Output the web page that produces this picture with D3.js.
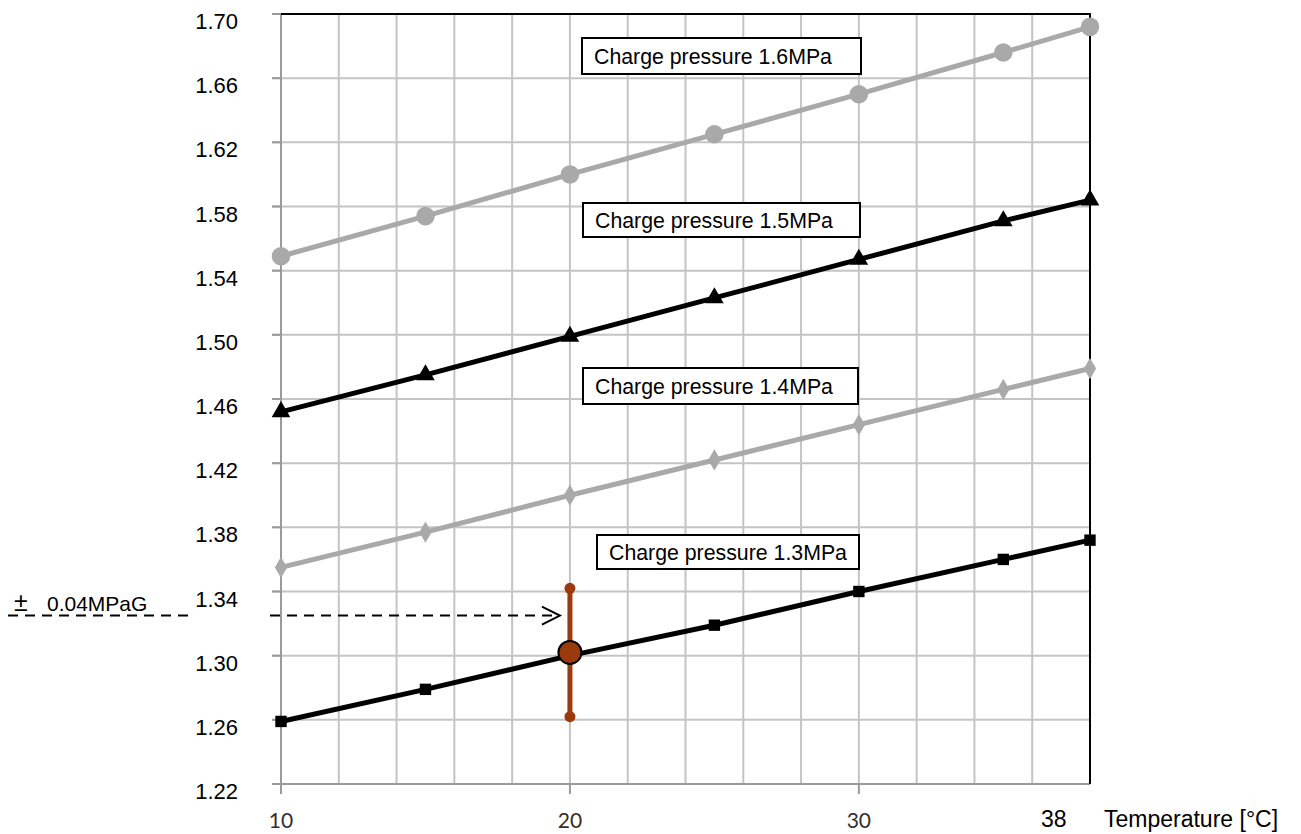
<!DOCTYPE html>
<html>
<head>
<meta charset="utf-8">
<script src="https://cdn.jsdelivr.net/npm/d3@7"></script>
<style>
  body { margin: 0; background: #fff; }
  text { font-family: Arial, "Liberation Sans", sans-serif; fill: #000; }
</style>
</head>
<body>
<svg width="1301" height="834"></svg>
<script>
// Temperature points (x axis)
let temps = [10, 15, 20, 25, 30, 35, 38];

// Pressure readings for each charge pressure
let p16 = [1.549, 1.574, 1.600, 1.625, 1.650, 1.676, 1.692];
let p15 = [1.452, 1.475, 1.499, 1.523, 1.547, 1.571, 1.584];
let p14 = [1.355, 1.377, 1.400, 1.422, 1.444, 1.466, 1.479];
let p13 = [1.259, 1.279, 1.300, 1.319, 1.340, 1.360, 1.372];

let seriesNames = ["Charge pressure 1.6MPa", "Charge pressure 1.5MPa", "Charge pressure 1.4MPa", "Charge pressure 1.3MPa"];

// Axis ticks
let yTicks = ["1.22", "1.26", "1.30", "1.34", "1.38", "1.42", "1.46", "1.50", "1.54", "1.58", "1.62", "1.66", "1.70"];
let xTicks = [10, 20, 30];
let xGrid = [10, 12, 14, 16, 18, 20, 22, 24, 26, 28, 30, 32, 34, 36, 38];

// Tolerance marker: temperature, centre value, tolerance
let tolTemp = 20;
let tolValue = 1.302;
let tolRange = 0.04;
let arrowValue = 1.325;

let svg = d3.select("svg");

let x = d3.scaleLinear().domain([10, 38]).range([281, 1090]);
let y = d3.scaleLinear().domain([1.22, 1.70]).range([784, 14]);

// grid
let grid = svg.append("g");
grid.selectAll("line.v")
  .data(xGrid)
  .enter()
  .append("line")
  .attr("x1", function (d) { return x(d); })
  .attr("x2", function (d) { return x(d); })
  .attr("y1", y(1.70))
  .attr("y2", y(1.22))
  .attr("stroke", "#c4c4c4")
  .attr("stroke-width", 2);

grid.selectAll("line.h")
  .data(yTicks)
  .enter()
  .append("line")
  .attr("x1", 272)
  .attr("x2", x(38))
  .attr("y1", function (d) { return y(+d); })
  .attr("y2", function (d) { return y(+d); })
  .attr("stroke", "#c4c4c4")
  .attr("stroke-width", 2);

// left tick marks are a bit darker
grid.selectAll("line.t")
  .data(yTicks)
  .enter()
  .append("line")
  .attr("x1", 272)
  .attr("x2", x(10))
  .attr("y1", function (d) { return y(+d); })
  .attr("y2", function (d) { return y(+d); })
  .attr("stroke", "#9a9a9a")
  .attr("stroke-width", 2);

// bottom ticks
grid.selectAll("line.b")
  .data(xTicks)
  .enter()
  .append("line")
  .attr("x1", function (d) { return x(d); })
  .attr("x2", function (d) { return x(d); })
  .attr("y1", y(1.22))
  .attr("y2", y(1.22) + 10)
  .attr("stroke", "#9a9a9a")
  .attr("stroke-width", 2);

// axes + frame
svg.append("line")
  .attr("x1", x(10)).attr("x2", x(10))
  .attr("y1", y(1.70) - 1).attr("y2", y(1.22) + 9)
  .attr("stroke", "#9a9a9a").attr("stroke-width", 2);
svg.append("line")
  .attr("x1", 272).attr("x2", x(38))
  .attr("y1", y(1.22)).attr("y2", y(1.22))
  .attr("stroke", "#9a9a9a").attr("stroke-width", 2);
svg.append("line")
  .attr("x1", x(10)).attr("x2", x(38) + 1)
  .attr("y1", y(1.70)).attr("y2", y(1.70))
  .attr("stroke", "#000").attr("stroke-width", 2);
svg.append("line")
  .attr("x1", x(38)).attr("x2", x(38))
  .attr("y1", y(1.70)).attr("y2", y(1.22))
  .attr("stroke", "#000").attr("stroke-width", 2);

// tick labels
svg.selectAll("text.ylab")
  .data(yTicks)
  .enter()
  .append("text")
  .attr("x", 238)
  .attr("y", function (d) { return y(+d) + 15; })
  .attr("text-anchor", "end")
  .attr("font-size", 22)
  .text(function (d) { return d; });

svg.selectAll("text.xlab")
  .data(xTicks)
  .enter()
  .append("text")
  .attr("x", function (d) { return x(d); })
  .attr("y", 828)
  .attr("text-anchor", "middle")
  .attr("font-size", 21)
  .style("font-family", "Lato, sans-serif")
  .style("fill", "#3a2d28")
  .text(function (d) { return d; });

svg.append("text")
  .attr("x", x(38) - 49).attr("y", 827)
  .attr("font-size", 23)
  .text("38");
svg.append("text")
  .attr("x", 1104).attr("y", 827)
  .attr("font-size", 23)
  .text("Temperature [°C]");

// series
let series = [
  { values: p16, color: "#a9a9a9", shape: d3.symbolCircle, size: 270 },
  { values: p15, color: "#000000", shape: d3.symbolTriangle, size: 150 },
  { values: p14, color: "#a9a9a9", shape: d3.symbolDiamond, size: 130 },
  { values: p13, color: "#000000", shape: d3.symbolSquare, size: 130 },
];

let line = d3.line()
  .x(function (d) { return x(d[0]); })
  .y(function (d) { return y(d[1]); });

series.forEach(function (s) {
  let pts = d3.zip(temps, s.values);
  svg.append("path")
    .datum(pts)
    .attr("d", line)
    .attr("fill", "none")
    .attr("stroke", s.color)
    .attr("stroke-width", 5);

  svg.append("g")
    .selectAll("path")
    .data(pts)
    .enter()
    .append("path")
    .attr("transform", function (d) { return "translate(" + x(d[0]) + "," + y(d[1]) + ")"; })
    .attr("d", d3.symbol().type(s.shape).size(s.size))
    .attr("fill", s.color);
});

// label boxes (left, top, width, height)
let boxes = [
  [582, 38, 279, 36],
  [583, 203, 277, 34],
  [583, 368, 275, 36],
  [597, 535, 262, 34],
];

boxes.forEach(function (b, i) {
  svg.append("rect")
    .attr("x", b[0]).attr("y", b[1])
    .attr("width", b[2]).attr("height", b[3])
    .attr("fill", "#fff")
    .attr("stroke", "#000")
    .attr("stroke-width", 2);
  svg.append("text")
    .attr("x", b[0] + 12)
    .attr("y", b[1] + b[3] / 2 + 7.5)
    .attr("font-size", 21.3)
    .text(seriesNames[i]);
});

// dashed arrow
let ay = y(arrowValue);
svg.append("line")
  .attr("x1", 8).attr("x2", 188)
  .attr("y1", ay).attr("y2", ay)
  .attr("stroke", "#000").attr("stroke-width", 2)
  .attr("stroke-dasharray", "10,7");
svg.append("line")
  .attr("x1", 270).attr("x2", x(tolTemp) - 12)
  .attr("y1", ay).attr("y2", ay)
  .attr("stroke", "#000").attr("stroke-width", 2)
  .attr("stroke-dasharray", "10,7");
svg.append("path")
  .attr("d", "M" + (x(tolTemp) - 28) + "," + (ay - 9) + "L" + (x(tolTemp) - 10) + "," + ay + "L" + (x(tolTemp) - 28) + "," + (ay + 9))
  .attr("fill", "none")
  .attr("stroke", "#000")
  .attr("stroke-width", 2);

svg.append("text")
  .attr("x", 14).attr("y", 611)
  .attr("font-size", 25)
  .text("±");
svg.append("text")
  .attr("x", 47).attr("y", 611)
  .attr("font-size", 21)
  .text("0.04MPaG");

// tolerance bar
let brown = "#9b3a0c";
svg.append("line")
  .attr("x1", x(tolTemp)).attr("x2", x(tolTemp))
  .attr("y1", y(tolValue - tolRange)).attr("y2", y(tolValue + tolRange))
  .attr("stroke", brown).attr("stroke-width", 5);
svg.selectAll("circle.end")
  .data([tolValue - tolRange, tolValue + tolRange])
  .enter()
  .append("circle")
  .attr("cx", x(tolTemp))
  .attr("cy", function (d) { return y(d); })
  .attr("r", 5.5)
  .attr("fill", brown);
svg.append("circle")
  .attr("cx", x(tolTemp))
  .attr("cy", y(tolValue))
  .attr("r", 11.5)
  .attr("fill", brown)
  .attr("stroke", "#000")
  .attr("stroke-width", 2);
</script>
</body>
</html>
